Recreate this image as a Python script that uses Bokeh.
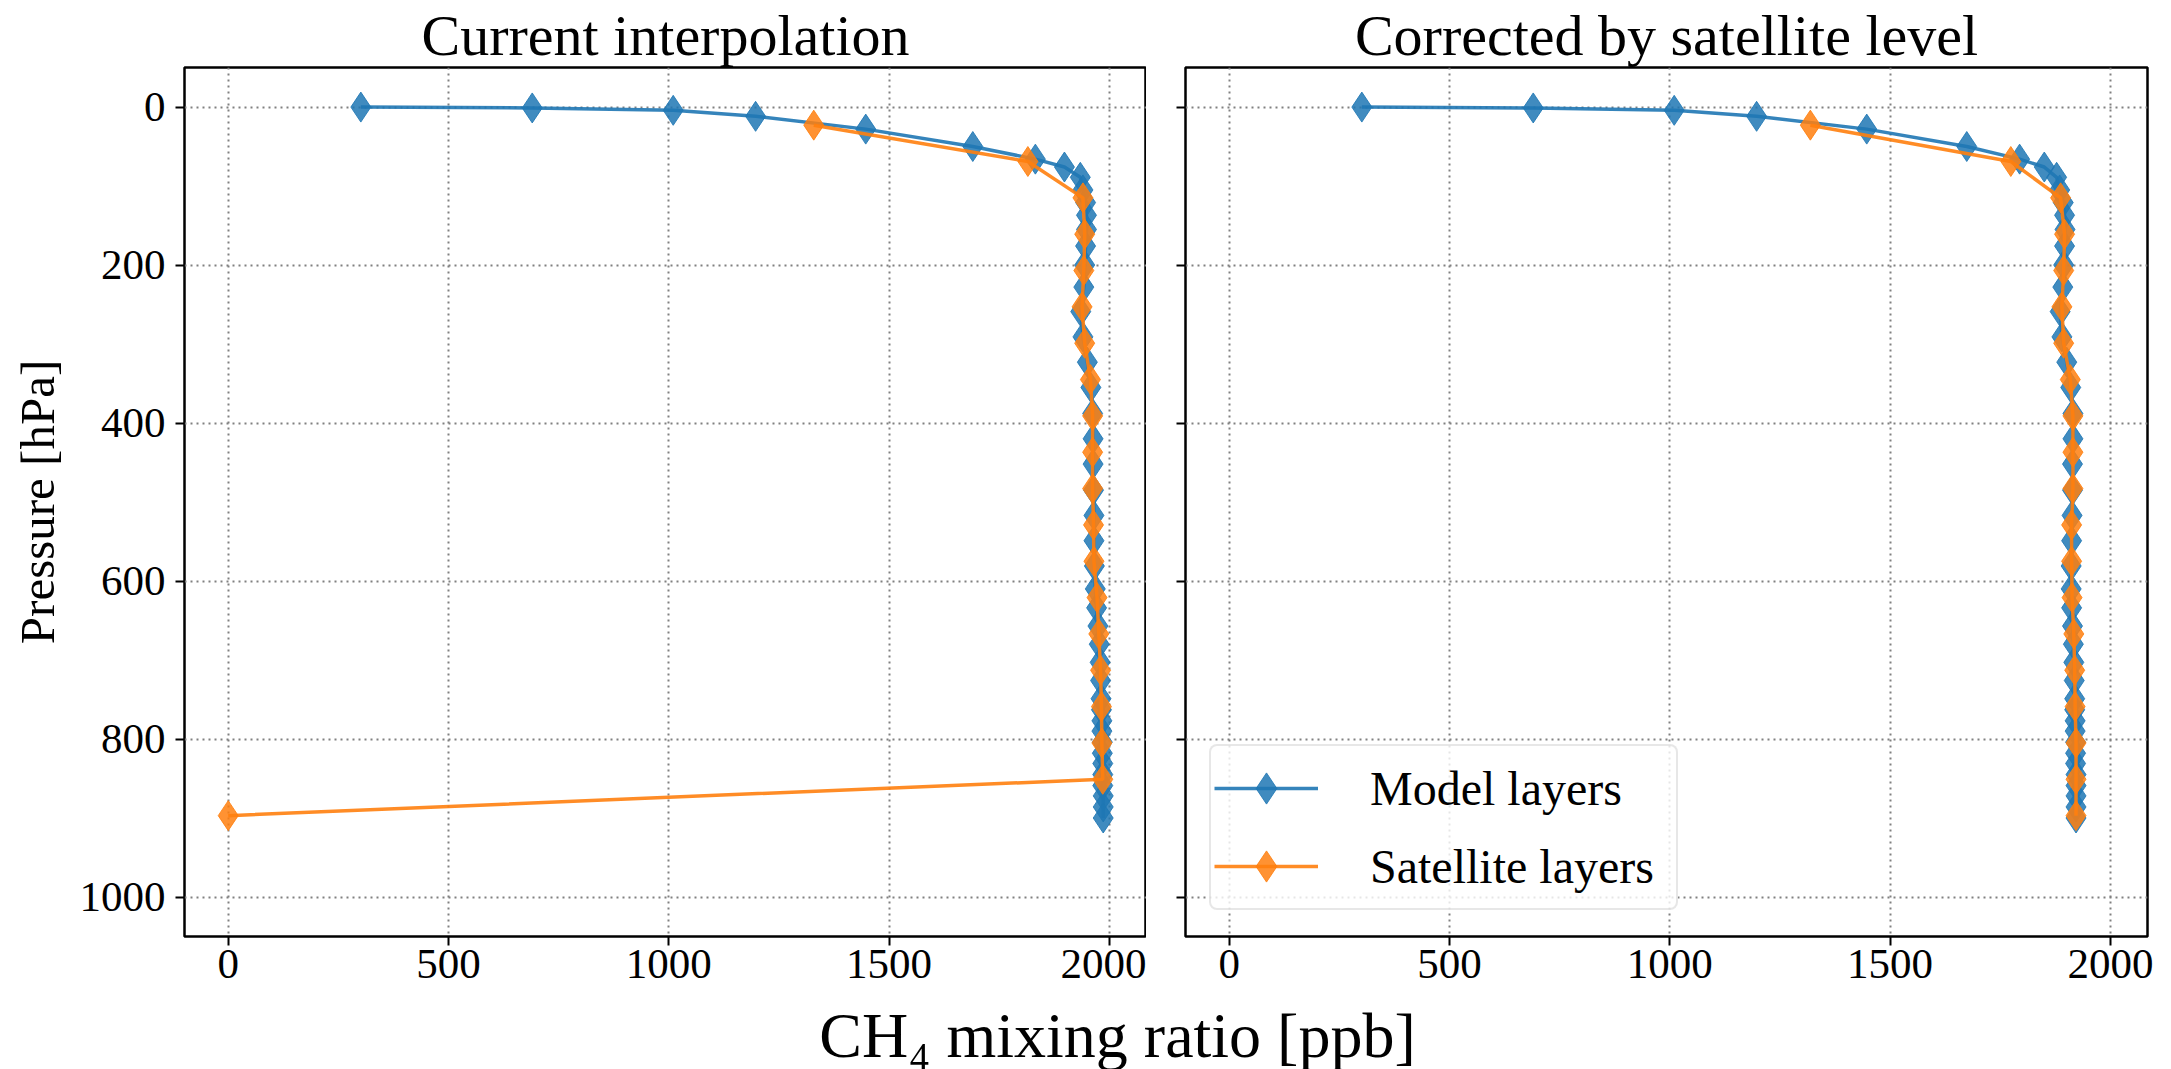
from bokeh.plotting import figure
from bokeh.layouts import row, column
from bokeh.models import Range1d, Label, FixedTicker, Legend, LegendItem
from bokeh.embed import file_html
from bokeh.resources import INLINE

# ---------------- data ----------------
panel_titles = ["Current interpolation", "Corrected by satellite level"]
series_names = ["Model layers", "Satellite layers"]
x_label = "CH\u2084 mixing ratio [ppb]"
y_label = "Pressure [hPa]"
x_ticks = [0, 500, 1000, 1500, 2000]
y_ticks = [0, 200, 400, 600, 800, 1000]

model_pressure = [0.1, 1.2, 4.2, 11.8, 28, 50, 66, 76, 89, 105, 121, 137, 155, 176, 200,
                  228, 259, 291, 323, 355, 388, 420, 452, 485, 517, 549, 581, 610, 634, 657,
                  680, 703, 726, 749, 763, 777, 790, 804, 818, 831, 845, 859, 872, 886, 900]
model_ch4_current = [301, 690, 1010, 1197, 1447, 1690, 1832, 1898, 1934, 1940, 1946, 1948, 1948, 1946, 1944,
                     1942, 1935, 1940, 1950, 1958, 1962, 1963, 1963, 1964, 1965, 1965, 1966, 1968, 1971, 1974,
                     1977, 1979, 1980, 1981, 1982, 1983, 1983, 1984, 1984, 1985, 1985, 1985, 1986, 1986, 1986]
model_ch4_corrected = [301, 690, 1010, 1197, 1447, 1674, 1794, 1850, 1878, 1885, 1893, 1896, 1897, 1896, 1894,
                       1892, 1886, 1890, 1901, 1910, 1915, 1915, 1914, 1914, 1913, 1912, 1911, 1911, 1912, 1914,
                       1916, 1917, 1918, 1919, 1919, 1920, 1920, 1921, 1921, 1921, 1922, 1922, 1922, 1922, 1922]

sat_pressure = [23, 69, 115, 161, 207, 253, 299, 345, 391, 437, 483, 529, 575, 621, 667, 713, 759, 805, 851, 897]
sat_ch4_current = [1329, 1815, 1940, 1944, 1942, 1938, 1944, 1957, 1962, 1962, 1962, 1964, 1965, 1972, 1976,
                   1980, 1982, 1983, 1985, 0]
sat_ch4_corrected = [1319, 1774, 1887, 1896, 1894, 1890, 1894, 1909, 1915, 1915, 1915, 1912, 1912, 1913, 1917,
                     1919, 1920, 1922, 1922, 1922]

# ---------------- style ----------------
BLUE = "#1f77b4"
ORANGE = "#ff7f0e"
FONT = "Liberation Serif"
X0, X1 = -99.25, 2084.25
Y0, Y1 = 1050, -50
FRAME_W, FRAME_H = 962, 869
TOP, BOTTOM = 63, 62
TOTAL_W, TOTAL_H = 2171, 1069


def make_panel(title, mx, sx, left_border, right_border, show_ylabels):
    p = figure(frame_width=FRAME_W, frame_height=FRAME_H,
               x_range=Range1d(X0, X1), y_range=Range1d(Y0, Y1),
               toolbar_location=None, output_backend="svg",
               min_border_left=left_border, min_border_right=right_border,
               min_border_top=TOP, min_border_bottom=BOTTOM, title=title)
    p.title.align = "center"
    p.title.text_font = FONT
    p.title.text_font_size = "58px"
    p.title.text_font_style = "normal"
    p.title.text_color = "black"
    p.title.standoff = 0
    p.title.offset = 0
    p.background_fill_color = "white"
    p.border_fill_color = "white"
    p.outline_line_color = "black"
    p.outline_line_width = 2.5
    p.outline_line_alpha = 1.0

    p.xaxis.ticker = FixedTicker(ticks=x_ticks)
    p.yaxis.ticker = FixedTicker(ticks=y_ticks)
    for ax in list(p.xaxis) + list(p.yaxis):
        ax.axis_line_color = None
        ax.major_tick_line_color = "black"
        ax.major_tick_line_width = 2
        ax.major_tick_out = 9
        ax.major_tick_in = 0
        ax.minor_tick_line_color = None
        ax.major_label_text_font = FONT
        ax.major_label_text_font_size = "43px"
        ax.major_label_text_color = "black"
    p.xaxis.major_label_standoff = 4
    p.yaxis.major_label_standoff = 10
    if show_ylabels:
        p.yaxis.axis_label = y_label
        p.yaxis.axis_label_text_font = FONT
        p.yaxis.axis_label_text_font_size = "49px"
        p.yaxis.axis_label_text_font_style = "normal"
        p.yaxis.axis_label_text_color = "black"
        p.yaxis.axis_label_standoff = 12
    else:
        p.yaxis.major_label_overrides = {t: "" for t in y_ticks}

    p.grid.grid_line_color = "#808080"
    p.grid.grid_line_dash = "2 4"
    p.grid.grid_line_width = 2

    bl = p.line(mx, model_pressure, line_color=BLUE, line_width=3.5, line_alpha=0.9)
    bs = p.scatter(mx, model_pressure, marker="diamond", size=30, fill_color=BLUE,
                   line_color=BLUE, fill_alpha=0.85, line_alpha=0.85)
    ol = p.line(sx, sat_pressure, line_color=ORANGE, line_width=3.5, line_alpha=0.9)
    os_ = p.scatter(sx, sat_pressure, marker="diamond", size=30, fill_color=ORANGE,
                    line_color=ORANGE, fill_alpha=0.85, line_alpha=0.85)
    return p, (bl, bs), (ol, os_)


p1, _, _ = make_panel(panel_titles[0], model_ch4_current, sat_ch4_current, 184, 0, True)
p2, brs, ors = make_panel(panel_titles[1], model_ch4_corrected, sat_ch4_corrected, 39, 24, False)

legend = Legend(items=[LegendItem(label=series_names[0], renderers=list(brs)),
                       LegendItem(label=series_names[1], renderers=list(ors))],
                location=(24, 26))
legend.label_text_font = FONT
legend.label_text_font_size = "48px"
legend.label_text_color = "black"
legend.glyph_width = 104
legend.glyph_height = 78
legend.label_height = 78
legend.label_width = 303
legend.label_standoff = 52
legend.spacing = -8
legend.padding = 3
legend.margin = 0
legend.border_line_color = "#d0d0d0"
legend.border_line_width = 2
legend.background_fill_color = "white"
legend.background_fill_alpha = 0.8
try:
    legend.border_radius = 8
except Exception:
    pass
p2.add_layout(legend, "center")

# shared x label strip
LABEL_H = TOTAL_H - (TOP + 3 + FRAME_H + BOTTOM)
pl = figure(width=TOTAL_W, height=LABEL_H, x_range=Range1d(0, TOTAL_W), y_range=Range1d(0, LABEL_H),
            toolbar_location=None, output_backend="svg", x_axis_type=None, y_axis_type=None,
            min_border=0)
pl.outline_line_color = None
pl.grid.visible = False
pl.background_fill_color = "white"
pl.border_fill_color = "white"
pl.add_layout(Label(x=1117, y=LABEL_H - 37, text=x_label, text_font=FONT, text_font_size="64px",
                    text_color="black", text_align="center", text_baseline="middle"))

layout = column(row(p1, p2), pl)
open("out.html", "w").write(file_html(layout, INLINE))
